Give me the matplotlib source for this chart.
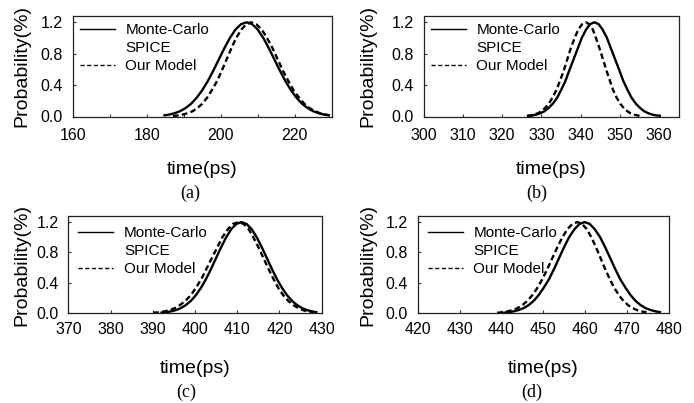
import matplotlib
matplotlib.use("Agg")
import matplotlib.pyplot as plt
from matplotlib.lines import Line2D
from matplotlib.ticker import MultipleLocator

plt.rcParams['font.family'] = ['Liberation Sans', 'DejaVu Sans']

# Panel (a)
a_mc_x = [184.5, 186.0, 187.5, 189.0, 190.5, 192.0, 193.5, 195.0, 196.5, 198.0, 199.5, 201.0, 202.5, 204.0, 205.5,
          207.0, 208.5, 210.0, 211.5, 213.0, 214.5, 216.0, 217.5, 219.0, 220.5, 222.0, 223.5, 225.0, 226.5, 228.0, 229.5]
a_mc_y = [0.013, 0.024, 0.041, 0.067, 0.107, 0.162, 0.238, 0.334, 0.450, 0.584, 0.728, 0.871, 1.002, 1.108, 1.176,
          1.200, 1.176, 1.108, 1.002, 0.871, 0.728, 0.584, 0.450, 0.334, 0.238, 0.162, 0.107, 0.067, 0.041, 0.024, 0.013]
a_md_x = [187.1, 188.4, 189.7, 191.0, 192.4, 193.7, 195.0, 196.3, 197.6, 199.0, 200.3, 201.6, 202.9, 204.2, 205.6, 206.9,
          208.2, 209.6, 211.1, 212.5, 214.0, 215.4, 216.8, 218.3, 219.7, 221.2, 222.6, 224.0, 225.5, 226.9, 228.4, 229.8]
a_md_y = [0.007, 0.013, 0.024, 0.041, 0.067, 0.107, 0.162, 0.238, 0.334, 0.450, 0.584, 0.728, 0.871, 1.002, 1.108, 1.176,
          1.200, 1.176, 1.108, 1.002, 0.871, 0.728, 0.584, 0.450, 0.334, 0.238, 0.162, 0.107, 0.067, 0.041, 0.024, 0.013]

# Panel (b)
b_mc_x = [326.5, 327.6, 328.7, 329.7, 330.8, 331.8, 332.9, 334.0, 335.0, 336.1, 337.1, 338.2, 339.3, 340.3, 341.4, 342.4,
          343.5, 344.6, 345.6, 346.7, 347.7, 348.8, 349.9, 350.9, 352.0, 353.0, 354.1, 355.2, 356.2, 357.3, 358.3, 359.4, 360.5]
b_mc_y = [0.007, 0.013, 0.024, 0.041, 0.067, 0.107, 0.162, 0.238, 0.334, 0.450, 0.584, 0.728, 0.871, 1.002, 1.108, 1.176,
          1.200, 1.176, 1.108, 1.002, 0.871, 0.728, 0.584, 0.450, 0.334, 0.238, 0.162, 0.107, 0.067, 0.041, 0.024, 0.013, 0.007]
b_md_x = [326.3, 327.2, 328.1, 329.1, 330.0, 330.9, 331.9, 332.8, 333.8, 334.7, 335.7, 336.6, 337.5, 338.5, 339.4, 340.4,
          341.3, 342.2, 343.1, 343.9, 344.8, 345.7, 346.6, 347.5, 348.3, 349.2, 350.1, 351.0, 351.9, 352.7, 353.6, 354.5, 355.4]
b_md_y = [0.007, 0.013, 0.024, 0.041, 0.067, 0.107, 0.162, 0.238, 0.334, 0.450, 0.584, 0.728, 0.871, 1.002, 1.108, 1.176,
          1.200, 1.176, 1.108, 1.002, 0.871, 0.728, 0.584, 0.450, 0.334, 0.238, 0.162, 0.107, 0.067, 0.041, 0.024, 0.013, 0.007]

# Panel (c)
c_mc_x = [391.8, 393.0, 394.2, 395.4, 396.6, 397.8, 399.0, 400.2, 401.4, 402.6, 403.8, 405.0, 406.2, 407.4, 408.6, 409.8,
          411.0, 412.2, 413.4, 414.6, 415.8, 417.0, 418.2, 419.4, 420.6, 421.8, 423.0, 424.2, 425.4, 426.6, 427.8, 429.0]
c_mc_y = [0.007, 0.013, 0.024, 0.041, 0.067, 0.107, 0.162, 0.238, 0.334, 0.450, 0.584, 0.728, 0.871, 1.002, 1.108, 1.176,
          1.200, 1.176, 1.108, 1.002, 0.871, 0.728, 0.584, 0.450, 0.334, 0.238, 0.162, 0.107, 0.067, 0.041, 0.024, 0.013]
c_md_x = [390.1, 391.4, 392.7, 393.9, 395.2, 396.4, 397.7, 399.0, 400.2, 401.5, 402.7, 404.0, 405.3, 406.5, 407.8, 409.0,
          410.3, 411.5, 412.7, 413.8, 415.0, 416.2, 417.4, 418.6, 419.7, 420.9, 422.1, 423.3, 424.5, 425.6, 426.8, 428.0]
c_md_y = [0.007, 0.013, 0.024, 0.041, 0.067, 0.107, 0.162, 0.238, 0.334, 0.450, 0.584, 0.728, 0.871, 1.002, 1.108, 1.176,
          1.200, 1.176, 1.108, 1.002, 0.871, 0.728, 0.584, 0.450, 0.334, 0.238, 0.162, 0.107, 0.067, 0.041, 0.024, 0.013]

# Panel (d)
d_mc_x = [440.4, 441.6, 442.8, 444.0, 445.3, 446.5, 447.7, 448.9, 450.1, 451.4, 452.6, 453.8, 455.0, 456.2, 457.5, 458.7,
          459.9, 461.1, 462.3, 463.6, 464.8, 466.0, 467.2, 468.4, 469.7, 470.9, 472.1, 473.3, 474.5, 475.8, 477.0, 478.2]
d_mc_y = [0.007, 0.013, 0.024, 0.041, 0.067, 0.107, 0.162, 0.238, 0.334, 0.450, 0.584, 0.728, 0.871, 1.002, 1.108, 1.176,
          1.200, 1.176, 1.108, 1.002, 0.871, 0.728, 0.584, 0.450, 0.334, 0.238, 0.162, 0.107, 0.067, 0.041, 0.024, 0.013]
d_md_x = [439.0, 440.2, 441.4, 442.6, 443.8, 445.0, 446.2, 447.4, 448.6, 449.8, 451.0, 452.2, 453.4, 454.6, 455.8, 457.0,
          458.2, 459.3, 460.4, 461.5, 462.6, 463.7, 464.8, 465.9, 467.0, 468.1, 469.2, 470.3, 471.4, 472.5, 473.6, 474.7]
d_md_y = [0.007, 0.013, 0.024, 0.041, 0.067, 0.107, 0.162, 0.238, 0.334, 0.450, 0.584, 0.728, 0.871, 1.002, 1.108, 1.176,
          1.200, 1.176, 1.108, 1.002, 0.871, 0.728, 0.584, 0.450, 0.334, 0.238, 0.162, 0.107, 0.067, 0.041, 0.024, 0.013]

panel_labels = ["(a)", "(b)", "(c)", "(d)"]
xlims = [(160, 230), (300, 365), (370, 430), (420, 480)]
x_major = [20, 10, 10, 10]
y_ticks = [0.0, 0.4, 0.8, 1.2]
legend_labels = ["Monte-Carlo", "SPICE", "Our Model"]
xlabel = "time(ps)"
ylabel = "Probability(%)"

series = [
    (a_mc_x, a_mc_y, a_md_x, a_md_y),
    (b_mc_x, b_mc_y, b_md_x, b_md_y),
    (c_mc_x, c_mc_y, c_md_x, c_md_y),
    (d_mc_x, d_mc_y, d_md_x, d_md_y),
]

W, H = 694, 403
fig = plt.figure(figsize=(W / 100, H / 100), dpi=100)

# axes boxes in pixels: left, top, right, bottom
boxes = [(72.7, 16, 331.7, 116.5), (423.7, 16, 678.7, 116.5),
         (68.3, 216, 321.7, 313.3), (417.7, 216, 668.7, 313.3)]
sub_pos = [(190, 193), (537, 193), (186, 392), (532, 392)]
xtick_pad = [8, 8, 6.5, 6.5]
xlabel_pad = [13, 13, 16, 16]
ylabel_pad = [7.5, 11, 4, 6.5]
legend_bap = [0.35, 0.35, 0.55, 0.55]

for i, (mx, my, dx, dy) in enumerate(series):
    l, t, r, b = boxes[i]
    ax = fig.add_axes([l / W, 1 - b / H, (r - l) / W, (b - t) / H])
    ax.plot(mx, my, color='black', lw=1.7, solid_capstyle='butt')
    ax.plot(dx, dy, color='black', lw=1.7, linestyle=(0, (2.4, 1.4)))
    ax.set_xlim(*xlims[i])
    ax.set_ylim(0, 1.28)
    ax.xaxis.set_major_locator(MultipleLocator(x_major[i]))
    ax.xaxis.set_minor_locator(MultipleLocator(10))
    ax.set_yticks(y_ticks)
    ax.set_yticklabels([f"{v:.1f}" for v in y_ticks])
    ax.tick_params(which='both', direction='in', labelsize=11.5, length=2.5, width=0.8,
                   color='#333333')
    ax.tick_params(axis='y', pad=7)
    ax.tick_params(axis='x', pad=xtick_pad[i])
    for s in ax.spines.values():
        s.set_linewidth(0.9)
        s.set_color('#222222')
    ax.set_xlabel(xlabel, fontsize=14, labelpad=xlabel_pad[i])
    ax.set_ylabel(ylabel, fontsize=14, labelpad=ylabel_pad[i])
    handles = [Line2D([], [], color='black', lw=1.0),
               Line2D([], [], color='none', lw=0),
               Line2D([], [], color='black', lw=1.0, linestyle=(0, (3, 1.8)))]
    ax.legend(handles, legend_labels, loc='upper left', frameon=False, fontsize=11,
              handlelength=2.3, handletextpad=0.7, labelspacing=0.28,
              borderaxespad=legend_bap[i], borderpad=0.1)
    fig.text(sub_pos[i][0] / W, 1 - sub_pos[i][1] / H, panel_labels[i],
             family=['Liberation Serif', 'DejaVu Serif'], fontsize=13,
             ha='center', va='center')

fig.savefig("out.png", dpi=100)
